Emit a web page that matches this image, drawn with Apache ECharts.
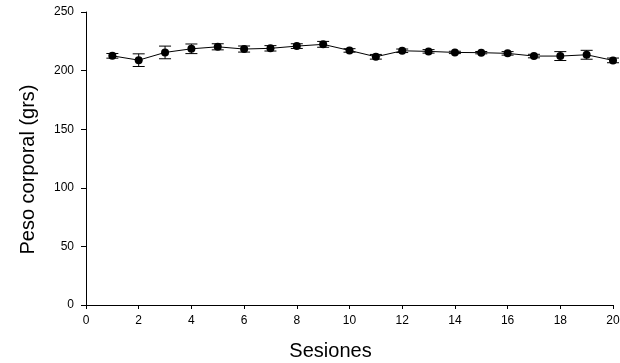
<!DOCTYPE html>
<html>
<head>
<meta charset="UTF-8">
<title>Peso corporal</title>
<script src="https://cdn.jsdelivr.net/npm/echarts@6/dist/echarts.min.js"></script>
<style>
  html, body { margin: 0; padding: 0; background: #fff; }
</style>
</head>
<body>
<div id="main" style="width: 620px;height:363px;"></div>
<script type="text/javascript">
// sesiones y peso medio (grs) con su error
var sesiones = [1, 2, 3, 4, 5, 6, 7, 8, 9, 10, 11, 12, 13, 14, 15, 16, 17, 18, 19, 20];
var peso = [212.6, 208.9, 215.5, 218.6, 220.3, 218.4, 219.0, 220.9, 222.4, 217.2,
            211.8, 216.9, 216.4, 215.5, 215.3, 214.7, 212.4, 212.4, 213.5, 208.7];
var error = [2.0, 5.4, 5.4, 4.1, 2.6, 2.6, 2.3, 2.0, 2.5, 1.5,
             2.0, 1.5, 1.5, 1.0, 1.0, 1.5, 1.5, 3.8, 3.8, 2.0];
var xTicks = [0, 2, 4, 6, 8, 10, 12, 14, 16, 18, 20];
var yTicks = [0, 50, 100, 150, 200, 250];

var myChart = echarts.init(document.getElementById('main'));

var lineData = [], errData = [];
for (var i = 0; i < sesiones.length; i++) {
    lineData.push([sesiones[i], peso[i]]);
    errData.push([sesiones[i], peso[i] - error[i], peso[i] + error[i]]);
}

var font = 'Liberation Sans, Arial, sans-serif';

var option = {
    animation: false,
    grid: { left: 86, right: 7, top: 12, bottom: 58, outerBoundsMode: 'none' },
    xAxis: {
        type: 'value',
        min: xTicks[0],
        max: xTicks[xTicks.length - 1],
        interval: 2,
        name: 'Sesiones',
        nameLocation: 'middle',
        nameGap: 36,
        nameTextStyle: { fontFamily: font, fontSize: 20, color: '#000', padding: [0, 38, 0, 0] },
        axisLine: { onZero: false, lineStyle: { color: '#000', width: 1 } },
        axisTick: { length: 4, lineStyle: { color: '#000' } },
        axisLabel: { fontFamily: font, fontSize: 12, color: '#000', margin: 10 },
        splitLine: { show: false }
    },
    yAxis: {
        type: 'value',
        min: yTicks[0],
        max: yTicks[yTicks.length - 1],
        interval: 50,
        name: 'Peso corporal (grs)',
        nameLocation: 'middle',
        nameGap: 48,
        nameTextStyle: { fontFamily: font, fontSize: 20, color: '#000', padding: [0, 22, 0, 0] },
        axisLine: { show: true, lineStyle: { color: '#000', width: 1 } },
        axisTick: { show: true, length: 5, lineStyle: { color: '#000' } },
        axisLabel: { fontFamily: font, fontSize: 12, color: '#000', margin: 12 },
        splitLine: { show: false }
    },
    series: [
        {
            type: 'custom',
            data: errData,
            z: 3,
            renderItem: function (params, api) {
                var x = api.value(0);
                var lo = api.coord([x, api.value(1)]);
                var hi = api.coord([x, api.value(2)]);
                var w = 6;
                var st = { stroke: '#000', lineWidth: 1 };
                return {
                    type: 'group',
                    children: [
                        { type: 'line', shape: { x1: lo[0], y1: lo[1], x2: hi[0], y2: hi[1] }, style: st },
                        { type: 'line', shape: { x1: lo[0] - w, y1: lo[1], x2: lo[0] + w, y2: lo[1] }, style: st },
                        { type: 'line', shape: { x1: hi[0] - w, y1: hi[1], x2: hi[0] + w, y2: hi[1] }, style: st }
                    ]
                };
            }
        },
        {
            type: 'line',
            data: lineData,
            z: 4,
            symbol: 'circle',
            symbolSize: 8,
            showAllSymbol: true,
            itemStyle: { color: '#000' },
            lineStyle: { color: '#000', width: 1 }
        }
    ]
};

myChart.setOption(option);
</script>
</body>
</html>
